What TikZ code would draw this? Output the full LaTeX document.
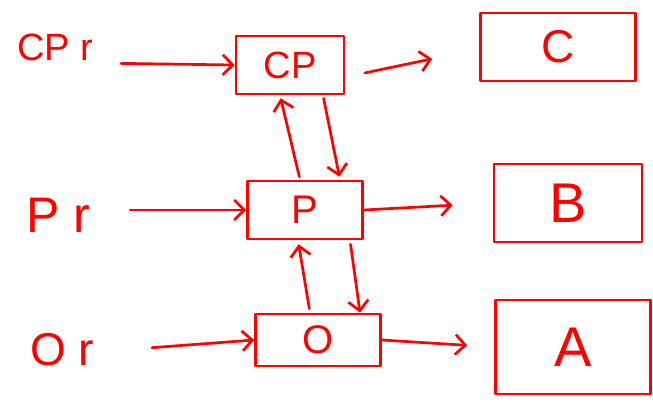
\documentclass[tikz,border=0pt]{standalone}
\usepackage{fontspec}
\setmainfont{Liberation Sans}
\usetikzlibrary{arrows.meta}
\definecolor{ink}{RGB}{255,0,0}
\tikzset{
  pen/.style={draw=ink, line width=2.7pt, line cap=round, line join=round},
  arr/.style={pen, -{Straight Barb[length=10pt,width=20pt,line width=2.7pt]}},
  stage/.style={pen, rectangle, text=ink, inner sep=0pt},
  inlabel/.style={text=ink, inner sep=0pt, anchor=center},
}
\begin{document}
\begin{tikzpicture}[x=1pt,y=-1pt]
\useasboundingbox (0,0) rectangle (653,405);

% input labels
\node[inlabel, font=\fontsize{38}{38}\selectfont] (cpr) at (55,47) {CP r};
\node[inlabel, font=\fontsize{50}{50}\selectfont] (pr)  at (58,215) {P r};
\node[inlabel, font=\fontsize{46}{46}\selectfont] (or)  at (62,350) {O r};

% stages
\node[stage, minimum width=108pt, minimum height=58pt, font=\fontsize{38}{38}\selectfont] (cp) at (290,65) {CP};
\node[stage, minimum width=115pt, minimum height=58pt, font=\fontsize{40}{40}\selectfont] (p)  at (305,210) {P};
\node[stage, minimum width=125pt, minimum height=52pt, font=\fontsize{40}{40}\selectfont] (o)  at (318,340) {O};

% outputs
\node[stage, minimum width=155pt, minimum height=68pt, font=\fontsize{46}{46}\selectfont] (c) at (558,47) {C};
\node[stage, minimum width=148pt, minimum height=78pt, font=\fontsize{56}{56}\selectfont] (b) at (568,203) {B};
\node[stage, minimum width=155pt, minimum height=94pt, font=\fontsize{56}{56}\selectfont] (a) at (573,347) {A};

% inputs into stages
\draw[arr, shorten <=28pt] ([yshift=2pt]cpr.east |- cp.west) -- (cp.west);
\draw[arr, shorten <=40pt] (pr.east |- p.west) -- (p.west);
\draw[arr, shorten <=58pt] ([yshift=-2pt]or.east) -- (o.west);

% stages into outputs
\draw[arr, shorten <=20pt, shorten >=48pt] ([yshift=-12pt]cp.east) -- ([yshift=-2pt]c.west);
\draw[arr, shorten >=40pt] (p.east) -- (b.west);
\draw[arr, shorten >=27pt] (o.east) -- (a.west);

% links between stages
\draw[arr, shorten <=3pt, shorten >=3pt] ([xshift=-5pt]p.north) -- ([xshift=-10pt]cp.south);
\draw[arr, shorten <=3pt, shorten >=3pt] ([xshift=33pt]cp.south) -- ([xshift=35pt]p.north);
\draw[arr, shorten <=4pt, shorten >=4pt] ([xshift=-8pt]o.north) -- ([xshift=-7pt]p.south);
\draw[arr, shorten <=4pt, shorten >=0pt] ([xshift=45pt]p.south) -- ([xshift=42pt]o.north);
\end{tikzpicture}
\end{document}
